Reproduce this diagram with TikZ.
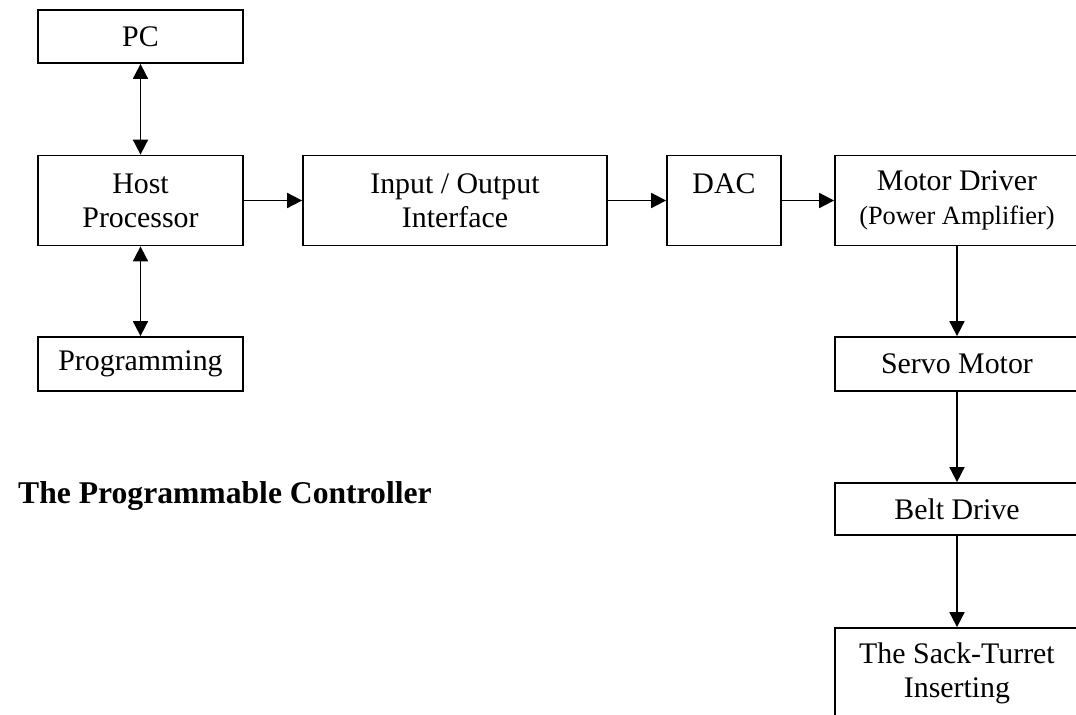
\documentclass[tikz,border=0pt]{standalone}
\usepackage{fontspec}
\setmainfont{Liberation Serif}
\usetikzlibrary{arrows.meta}

\begin{document}
\begin{tikzpicture}[x=0.2mm,y=-0.2mm,
  blk/.style={draw,line width=1pt,align=center,inner sep=0pt,
    font=\fontsize{17}{19.5}\selectfont},
  arr/.style={line width=1pt,-{Triangle[length=3mm,width=3mm]}},
  biarr/.style={line width=1pt,{Triangle[length=3mm,width=3mm]}-{Triangle[length=3mm,width=3mm]}}]
\useasboundingbox (0,0) rectangle (1076,715);
\clip (0,0) rectangle (1076,715);

\node[blk,minimum width=41mm,minimum height=10.6mm] (pc) at (140.5,36.5) {PC};
\node[blk,minimum width=41mm,minimum height=18mm] (host) at (140.5,200.5) {Host\\Processor};
\node[blk,minimum width=41mm,minimum height=10.8mm] (prog) at (140.5,364) {Programming};
\node[blk,minimum width=60.8mm,minimum height=18mm] (io) at (455,200.5) {Input / Output\\Interface};
\node[blk,minimum width=22.8mm,minimum height=18mm] (dac) at (724,200.5) {DAC\\\mbox{}};
\node[blk,minimum width=48.8mm,minimum height=18mm] (drv) at (957,200.5)
  {Motor Driver\\{\fontsize{15}{17}\selectfont(Power Amplifier)}};
\node[blk,minimum width=48.8mm,minimum height=10.8mm] (servo) at (957,364) {Servo Motor};
\node[blk,minimum width=48.8mm,minimum height=10.4mm] (belt) at (957,509) {Belt Drive};
\node[blk,minimum width=48.8mm,minimum height=18mm] (sack) at (957,673) {The Sack-Turret\\Inserting};

\node[anchor=base west,font=\fontsize{18}{20}\selectfont\bfseries] (title) at (12,503)
  {The Programmable Controller};

\draw[biarr] (pc) -- (host);
\draw[biarr] (host) -- (prog);
\draw[arr] (host) -- (io);
\draw[arr] (io) -- (dac);
\draw[arr] (dac) -- (drv);
\draw[arr] (drv) -- (servo);
\draw[arr] (servo) -- (belt);
\draw[arr] (belt) -- (sack);
\end{tikzpicture}
\end{document}
